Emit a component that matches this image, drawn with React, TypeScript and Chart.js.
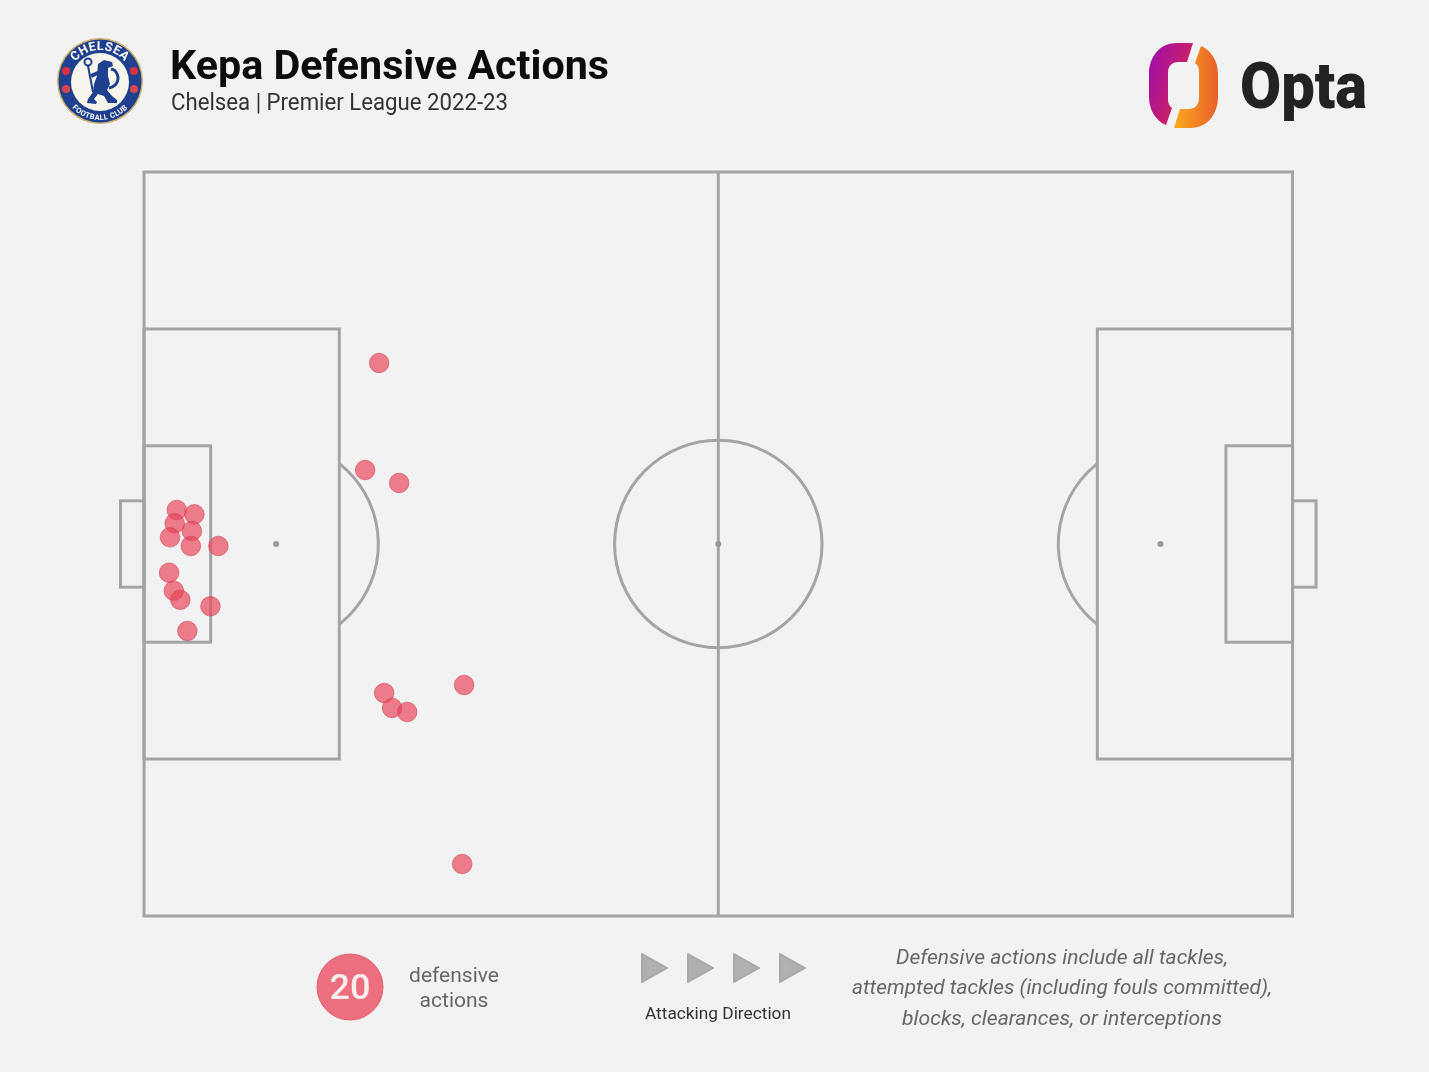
import { useEffect, useRef } from "react"
import { Chart, registerables } from "chart.js"

Chart.register(...registerables)

const actionX = [2.85, 4.38, 2.67, 4.16, 2.26, 4.07, 6.47, 2.18, 2.59, 3.16, 5.78, 3.77, 20.47, 19.25, 22.21, 20.91, 21.6, 22.91, 27.87, 27.7]
const actionY = [54.57, 53.99, 52.78, 51.75, 50.9, 49.73, 49.73, 46.14, 43.72, 42.5, 41.63, 38.31, 74.33, 59.95, 58.2, 29.97, 27.96, 27.42, 31.05, 6.99]

// pitch markings in Opta units: x0, x1, y0, y1
const pitchBoxes = [
  [0, 100, 0, 100],
  [0, 17, 21.1, 78.9],
  [83, 100, 21.1, 78.9],
  [0, 5.8, 36.8, 63.2],
  [94.2, 100, 36.8, 63.2],
  [-2.05, 0, 44.2, 55.8],
  [100, 102.05, 44.2, 55.8],
]
const spots = [[11.5, 50], [50, 50], [88.5, 50]]
const circleRadius = 9.03
const arcRadius = 8.9

const lineColor = "#a4a4a4"
const bg = "#f2f2f2"
const font = "Roboto, sans-serif"

const pitchPlugin = {
  id: "pitch",
  beforeDatasetsDraw(chart: any) {
    const { ctx, scales } = chart
    const x = (v: number) => scales.x.getPixelForValue(v)
    const y = (v: number) => scales.y.getPixelForValue(v)
    ctx.save()
    ctx.strokeStyle = lineColor
    ctx.lineWidth = 3
    pitchBoxes.forEach(([x0, x1, y0, y1]) => {
      ctx.strokeRect(x(x0), y(y1), x(x1) - x(x0), y(y0) - y(y1))
    })
    // halfway line
    ctx.beginPath()
    ctx.moveTo(x(50), y(0))
    ctx.lineTo(x(50), y(100))
    ctx.stroke()
    // centre circle
    ctx.beginPath()
    ctx.arc(x(50), y(50), x(circleRadius) - x(0), 0, Math.PI * 2)
    ctx.stroke()
    // penalty arcs, cut off at the box edge
    const r = x(arcRadius) - x(0)
    const a = Math.acos((x(17) - x(11.5)) / r)
    ctx.beginPath()
    ctx.arc(x(11.5), y(50), r, -a, a)
    ctx.stroke()
    ctx.beginPath()
    ctx.arc(x(88.5), y(50), r, Math.PI - a, Math.PI + a)
    ctx.stroke()
    ctx.fillStyle = "#999999"
    spots.forEach(([sx, sy]) => {
      ctx.beginPath()
      ctx.arc(x(sx), y(sy), 3, 0, Math.PI * 2)
      ctx.fill()
    })
    ctx.restore()
  },
}

const optaShape = "M1193 43 L1176 43 C1160 43 1149 57 1149 74 L1149 97 C1149 110 1156 121 1166 125 L1172 108 C1169 106 1168 103 1168 99 L1168 73 C1168 66 1172 62 1178 62 L1187 62 Z"

function Header() {
  return (
    <svg width={1429} height={1072} style={{ position: "absolute", left: 0, top: 0 }}>
      <defs>
        <linearGradient id="optaL" x1="0" y1="0.2" x2="1" y2="0.8">
          <stop offset="0" stopColor="#a10ea8" />
          <stop offset="1" stopColor="#dc2a48" />
        </linearGradient>
        <linearGradient id="optaR" x1="0" y1="0" x2="1" y2="0">
          <stop offset="0" stopColor="#e8602a" />
          <stop offset="1" stopColor="#fbab1e" />
        </linearGradient>
        <path id="crestTop" d="M 68 82 A 32 32 0 0 1 132 82" />
        <path id="crestBottom" d="M 62 82 A 38 38 0 0 0 138 82" />
      </defs>

      {/* crest */}
      <circle cx={100} cy={81} r={43} fill="#c9b26a" />
      <circle cx={100} cy={81} r={41.5} fill="#1f3f8f" />
      <circle cx={100} cy={82} r={29} fill="#f7f5ec" />
      <text fontFamily={font} fontSize={12.5} fontWeight={700} fill="#ffffff" letterSpacing={0.4}>
        <textPath href="#crestTop" startOffset="50%" textAnchor="middle">CHELSEA</textPath>
      </text>
      <text fontFamily={font} fontSize={7.5} fontWeight={700} fill="#ffffff" letterSpacing={0.4}>
        <textPath href="#crestBottom" startOffset="50%" textAnchor="middle">FOOTBALL CLUB</textPath>
      </text>
      {[[66, 71], [134, 71]].map(([cx, cy]) => <circle key={cx} cx={cx} cy={cy} r={4} fill="#dc2f3f" />)}
      {[[66, 89], [134, 89]].map(([cx, cy]) => <circle key={cx} cx={cx} cy={cy} r={4} fill="#d8454f" />)}
      <circle cx={88} cy={62} r={3.5} fill="none" stroke="#1f3f8f" strokeWidth={2} />
      <path d="M88 66 L93 92" stroke="#1f3f8f" strokeWidth={2} fill="none" />
      <path d="M91 76 L100 72" stroke="#1f3f8f" strokeWidth={4} fill="none" />
      <path
        d="M98 64 L104 60 L112 62 L113 66 L108 68 L108 76 L110 84 L107 90 L112 96 L117 100 L117 103 L108 103 L104 96 L98 94 L94 99 L97 102 L96 104 L87 103 L88 99 L93 92 L94 84 L97 76 Z"
        fill="#1f3f8f"
      />
      <path d="M109 88 C118 86 120 78 116 72 C114 69 114 70 111 69" stroke="#1f3f8f" strokeWidth={3} fill="none" />

      {/* title */}
      <text x={170} y={79} fontFamily={font} fontSize={41} fontWeight={700} fill="#0c0c0c" textLength={439} lengthAdjust="spacingAndGlyphs">Kepa Defensive Actions</text>
      <text x={171} y={110} fontFamily={font} fontSize={23} fill="#333333" textLength={337} lengthAdjust="spacingAndGlyphs">Chelsea | Premier League 2022-23</text>

      {/* opta logo */}
      <path d={optaShape} fill="url(#optaL)" />
      <path d={optaShape} fill="url(#optaR)" transform="rotate(180 1183.5 85.5)" />
      <text x={1240} y={108} fontFamily={font} fontSize={64} fontWeight={900} fill="#222222" textLength={127} lengthAdjust="spacingAndGlyphs">Opta</text>

      {/* count badge */}
      <circle cx={350} cy={987} r={33} fill="#ec6f7f" stroke="#e2606f" strokeWidth={1} />
      <text x={350} y={999} textAnchor="middle" fontFamily={font} fontSize={35} fontWeight={500} fill="#fdeeee" textLength={41} lengthAdjust="spacingAndGlyphs">20</text>
      <text x={454} y={982} textAnchor="middle" fontFamily={font} fontSize={21} fill="#666666">defensive</text>
      <text x={454} y={1007} textAnchor="middle" fontFamily={font} fontSize={21} fill="#666666">actions</text>

      {/* attacking direction */}
      {[641, 687, 733, 779].map((tx) => (
        <path key={tx} d={`M${tx + 1} 954 L${tx + 26} 968 L${tx + 1} 982 Z`} fill="#b0b0b0" stroke="#a8a8a8" strokeWidth={2} strokeLinejoin="round" />
      ))}
      <text x={718} y={1019} textAnchor="middle" fontFamily={font} fontSize={17} fill="#333333" textLength={146} lengthAdjust="spacingAndGlyphs">Attacking Direction</text>

      {/* note */}
      <text x={1062} y={964} textAnchor="middle" fontFamily={font} fontSize={21} fontStyle="italic" fill="#666666" textLength={332} lengthAdjust="spacingAndGlyphs">Defensive actions include all tackles,</text>
      <text x={1062} y={994} textAnchor="middle" fontFamily={font} fontSize={21} fontStyle="italic" fill="#666666" textLength={420} lengthAdjust="spacingAndGlyphs">attempted tackles (including fouls committed),</text>
      <text x={1062} y={1025} textAnchor="middle" fontFamily={font} fontSize={21} fontStyle="italic" fill="#666666" textLength={320} lengthAdjust="spacingAndGlyphs">blocks, clearances, or interceptions</text>
    </svg>
  )
}

export default function App() {
  const chartRef = useRef<HTMLCanvasElement | null>(null)

  useEffect(() => {
    if (!chartRef.current) return
    document.body.style.margin = "0"
    document.body.style.background = bg

    const chart = new Chart(chartRef.current, {
      type: "scatter",
      data: {
        datasets: [
          {
            label: "Defensive actions",
            data: actionX.map((x, i) => ({ x, y: actionY[i] })),
            backgroundColor: "rgba(233, 68, 88, 0.68)",
            borderColor: "rgba(205, 60, 80, 0.55)",
            borderWidth: 1,
            pointRadius: 9.8,
          },
        ],
      },
      options: {
        responsive: false,
        animation: false,
        devicePixelRatio: 1,
        layout: { padding: { left: 109.6, right: 102, top: 172, bottom: 156 } },
        scales: {
          x: { type: "linear", min: -3, max: 103, display: false },
          y: { type: "linear", min: 0, max: 100, display: false },
        },
        plugins: {
          legend: { display: false },
          tooltip: { enabled: false },
        },
      },
      plugins: [pitchPlugin],
    })

    return () => {
      chart.destroy()
    }
  }, [])

  return (
    <div style={{ position: "absolute", left: 0, top: 0, width: 1429, height: 1072, overflow: "hidden", background: bg }}>
      <canvas ref={chartRef} width={1429} height={1072} style={{ position: "absolute", left: 0, top: 0 }} />
      <Header />
    </div>
  )
}
